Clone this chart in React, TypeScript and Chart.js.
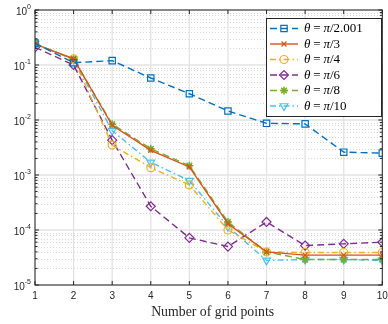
import React, { useEffect, useRef } from 'react';
import { Chart, registerables } from 'chart.js';
import { drawPoint } from 'chart.js/helpers';

Chart.register(...registerables);

const gridPoints = [1, 2, 3, 4, 5, 6, 7, 8, 9, 10];
const errPiOver2001 = [0.25, 0.11, 0.12, 0.058, 0.030, 0.0146, 0.0087, 0.0085, 0.0026, 0.0025];
const errPiOver3 = [0.24, 0.13, 0.0080, 0.0028, 0.0014, 0.00013, 4.0e-5, 3.5e-5, 3.5e-5, 3.5e-5];
const errPiOver4 = [0.235, 0.13, 0.0035, 0.00136, 0.00066, 0.0001, 4.0e-5, 3.9e-5, 3.9e-5, 3.9e-5];
const errPiOver6 = [0.21, 0.10, 0.0043, 0.00027, 7.2e-5, 5.0e-5, 1.4e-4, 5.2e-5, 5.6e-5, 6.0e-5];
const errPiOver8 = [0.24, 0.13, 0.0084, 0.0030, 0.00148, 0.00014, 4.0e-5, 2.9e-5, 2.9e-5, 2.9e-5];
const errPiOver10 = [0.245, 0.125, 0.0064, 0.0017, 0.00079, 0.000115, 2.8e-5, 2.9e-5, 2.9e-5, 2.8e-5];

const seriesLabels = ['θ = π/2.001', 'θ = π/3', 'θ = π/4', 'θ = π/6', 'θ = π/8', 'θ = π/10'];
const xTickLabels = ['1', '2', '3', '4', '5', '6', '7', '8', '9', '10'];
const yTickExponents = [0, -1, -2, -3, -4, -5];
const xAxisTitle = 'Number of grid points';

const AXIS_COLOR = '#262626';
const SANS = '"Liberation Sans", Arial, sans-serif';
const SERIF = '"Liberation Serif", "Times New Roman", serif';

function drawMath(ctx: CanvasRenderingContext2D, text: string, x: number, y: number, size: number) {
  let cx = x;
  for (const ch of text) {
    if (ch === ' ') {
      cx += size * 0.22;
      continue;
    }
    const italic = ch === 'θ' || ch === 'π';
    ctx.font = `${italic ? 'italic ' : ''}${size}px ${SERIF}`;
    ctx.fillText(ch, cx, y);
    cx += ctx.measureText(ch).width;
  }
}

const matlabAxesPlugin = {
  id: 'matlabAxes',
  beforeDraw(chart: any) {
    const { ctx, width, height } = chart;
    ctx.save();
    ctx.fillStyle = '#ffffff';
    ctx.fillRect(0, 0, width, height);
    ctx.restore();
  },
  beforeDatasetsDraw(chart: any) {
    const { ctx, chartArea: a, scales } = chart;
    const xs = scales.x;
    const ys = scales.y;
    ctx.save();
    ctx.strokeStyle = '#d6d6d6';
    ctx.lineWidth = 1;
    ctx.setLineDash([1, 2]);
    for (const e of yTickExponents) {
      if (e === 0) continue;
      for (let m = 2; m <= 9; m++) {
        const py = Math.round(ys.getPixelForValue(m * Math.pow(10, e))) + 0.5;
        ctx.beginPath();
        ctx.moveTo(a.left, py);
        ctx.lineTo(a.right, py);
        ctx.stroke();
      }
    }
    ctx.setLineDash([]);
    ctx.strokeStyle = '#e3e3e3';
    ctx.lineWidth = 1.3;
    for (const v of gridPoints) {
      const px = xs.getPixelForValue(v);
      ctx.beginPath();
      ctx.moveTo(px, a.top);
      ctx.lineTo(px, a.bottom);
      ctx.stroke();
    }
    for (const e of yTickExponents) {
      const py = ys.getPixelForValue(Math.pow(10, e));
      ctx.beginPath();
      ctx.moveTo(a.left, py);
      ctx.lineTo(a.right, py);
      ctx.stroke();
    }
    ctx.restore();
  },
  afterDatasetsDraw(chart: any) {
    const { ctx, chartArea: a, scales } = chart;
    const xs = scales.x;
    const ys = scales.y;
    ctx.save();
    ctx.strokeStyle = AXIS_COLOR;
    ctx.lineWidth = 1;
    ctx.strokeRect(a.left, a.top, a.right - a.left, a.bottom - a.top);
    ctx.beginPath();
    for (const v of gridPoints) {
      const px = xs.getPixelForValue(v);
      ctx.moveTo(px, a.bottom);
      ctx.lineTo(px, a.bottom - 4);
      ctx.moveTo(px, a.top);
      ctx.lineTo(px, a.top + 4);
    }
    for (const e of yTickExponents) {
      const py = ys.getPixelForValue(Math.pow(10, e));
      ctx.moveTo(a.left, py);
      ctx.lineTo(a.left + 4, py);
      ctx.moveTo(a.right, py);
      ctx.lineTo(a.right - 4, py);
      if (e === 0) continue;
      for (let m = 2; m <= 9; m++) {
        const pm = ys.getPixelForValue(m * Math.pow(10, e));
        ctx.moveTo(a.left, pm);
        ctx.lineTo(a.left + 2.5, pm);
        ctx.moveTo(a.right, pm);
        ctx.lineTo(a.right - 2.5, pm);
      }
    }
    ctx.stroke();
    ctx.fillStyle = AXIS_COLOR;
    ctx.font = `10px ${SANS}`;
    ctx.textAlign = 'center';
    ctx.textBaseline = 'middle';
    gridPoints.forEach((v, i) => {
      ctx.fillText(xTickLabels[i], xs.getPixelForValue(v), a.bottom + 11);
    });
    for (const e of yTickExponents) {
      const py = ys.getPixelForValue(Math.pow(10, e));
      const expText = String(e);
      ctx.font = `7px ${SANS}`;
      const ew = ctx.measureText(expText).width;
      const right = a.left - 4;
      ctx.textAlign = 'left';
      ctx.fillText(expText, right - ew, py - 3);
      ctx.font = `10px ${SANS}`;
      const bw = ctx.measureText('10').width;
      ctx.fillText('10', right - ew - bw, py + 2.5);
    }
    ctx.font = `13.8px ${SERIF}`;
    ctx.textAlign = 'center';
    ctx.fillText(xAxisTitle, (a.left + a.right) / 2 + 4, a.bottom + 27);

    const bx = 266, by = 18, bw2 = 115, bh = 98;
    ctx.fillStyle = '#ffffff';
    ctx.fillRect(bx, by, bw2, bh);
    ctx.strokeStyle = AXIS_COLOR;
    ctx.lineWidth = 1;
    ctx.strokeRect(bx + 0.5, by + 0.5, bw2, bh);
    chart.data.datasets.forEach((ds: any, i: number) => {
      const ry = by + 10.5 + i * 15.5;
      ctx.save();
      ctx.strokeStyle = ds.borderColor;
      ctx.lineWidth = ds.borderWidth;
      ctx.setLineDash(ds.borderDash || []);
      ctx.beginPath();
      ctx.moveTo(270, ry);
      ctx.lineTo(298, ry);
      ctx.stroke();
      ctx.setLineDash([]);
      ctx.strokeStyle = ds.pointBorderColor;
      ctx.fillStyle = ds.pointBackgroundColor;
      ctx.lineWidth = ds.pointBorderWidth;
      drawPoint(ctx, { pointStyle: ds.pointStyle, rotation: ds.pointRotation || 0, radius: ds.pointRadius, borderWidth: ds.pointBorderWidth }, 284, ry);
      ctx.restore();
      ctx.fillStyle = '#000000';
      ctx.textAlign = 'left';
      ctx.textBaseline = 'middle';
      drawMath(ctx, seriesLabels[i], 304, ry + 0.5, 13);
    });
    ctx.restore();
  },
};

function mk(label: string, values: number[], color: string, dash: number[], style: string, radius: number, opts: any = {}) {
  return {
    label,
    data: gridPoints.map((x, i) => ({ x, y: values[i] })),
    borderColor: color,
    borderWidth: 1.4,
    borderDash: dash,
    pointStyle: style,
    pointRadius: radius,
    pointBorderColor: color,
    pointBackgroundColor: 'rgba(0,0,0,0)',
    pointBorderWidth: 1.2,
    tension: 0,
    fill: false,
    ...opts,
  };
}

export default function App() {
  const ref = useRef<HTMLCanvasElement>(null);
  useEffect(() => {
    document.body.style.margin = '0';
    const dashed = [7, 4];
    const dashDot = [6, 3, 1.5, 3];
    const chart = new Chart(ref.current as HTMLCanvasElement, {
      type: 'line',
      data: {
        datasets: [
          mk(seriesLabels[0], errPiOver2001, '#0072BD', dashed, 'rect', 4.5),
          mk(seriesLabels[1], errPiOver3, '#D95319', [], 'crossRot', 3.5),
          mk(seriesLabels[2], errPiOver4, '#EDB120', dashDot, 'circle', 4),
          mk(seriesLabels[3], errPiOver6, '#7E2F8E', dashed, 'rectRot', 4.5),
          mk(seriesLabels[4], errPiOver8, '#77AC30', dashed, 'star', 4, { pointBorderWidth: 1.5 }),
          mk(seriesLabels[5], errPiOver10, '#4DBEEE', dashDot, 'triangle', 4.5, { pointRotation: 180 }),
        ] as any,
      },
      options: {
        responsive: false,
        animation: false,
        devicePixelRatio: 1,
        events: [],
        layout: { padding: { top: 10, right: 4, left: 0, bottom: 0 } },
        plugins: { legend: { display: false }, tooltip: { enabled: false } },
        scales: {
          x: {
            type: 'linear',
            min: 1,
            max: 10,
            grid: { display: false },
            border: { display: false },
            ticks: { display: false },
            afterFit: (s: any) => { s.height = 39; },
          },
          y: {
            type: 'logarithmic',
            min: 1e-5,
            max: 1,
            grid: { display: false },
            border: { display: false },
            ticks: { display: false },
            afterFit: (s: any) => { s.width = 35; },
          },
        },
      } as any,
      plugins: [matlabAxesPlugin],
    });
    return () => chart.destroy();
  }, []);
  return (
    <div style={{ width: 388, height: 324 }}>
      <canvas ref={ref} width={388} height={324} style={{ display: 'block', width: 388, height: 324 }} />
    </div>
  );
}
